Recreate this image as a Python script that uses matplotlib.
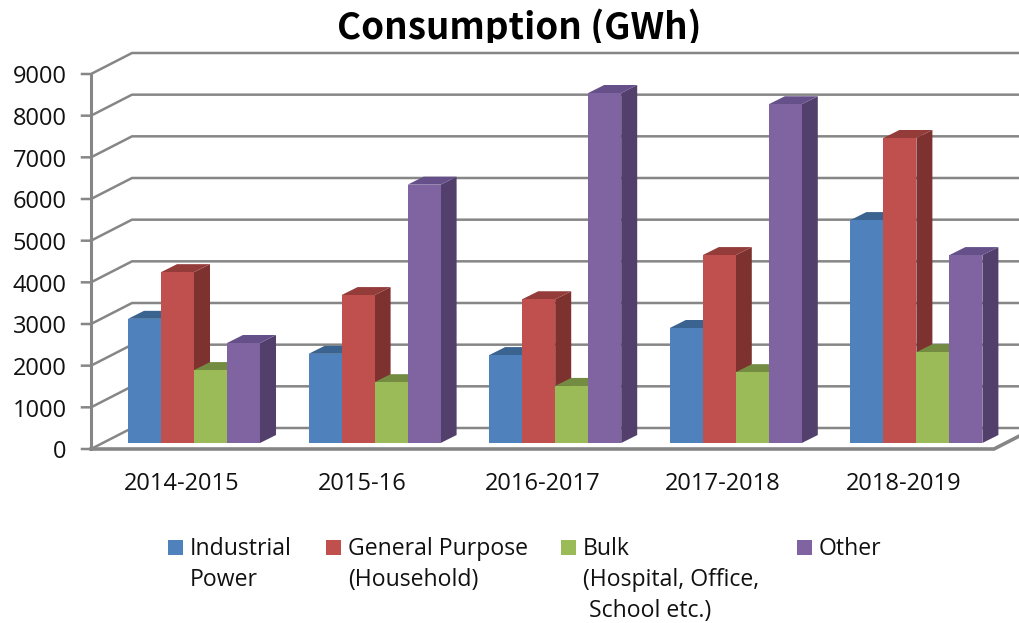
import matplotlib
matplotlib.use('Agg')
import matplotlib.pyplot as plt
from matplotlib.patches import Polygon, Rectangle
from matplotlib.transforms import Bbox

periodos = ['2014-2015', '2015-16', '2016-2017', '2017-2018', '2018-2019']
industrial = [2980, 2140, 2110, 2760, 5350]
general = [4100, 3550, 3450, 4510, 7320]
bulk = [1750, 1460, 1370, 1700, 2180]
other = [2400, 6200, 8400, 8130, 4510]
series = [industrial, general, bulk, other]
nombres = ['Industrial\nPower', 'General Purpose\n(Household)', 'Bulk\n(Hospital, Office,\n School etc.)', 'Other']
ticks_y = [0, 1000, 2000, 3000, 4000, 5000, 6000, 7000, 8000, 9000]

# front, top, side of each bar
colores = [('#4F81BD', '#3A6390', '#3A6390'),
           ('#C0504D', '#943C3A', '#7D3230'),
           ('#9BBB59', '#738C42', '#66803A'),
           ('#8064A2', '#65508A', '#533F6B')]
gris = '#868686'
fuente = 'Open Sans'

W, H = 1019, 623
fig = plt.figure(figsize=(W / 100, H / 100), dpi=100)
# axes box = front face of the chart, in pixels of the picture
x0, x1, y_cero, y_tope = 91, 994, 449, 74
ax = fig.add_axes([x0 / W, 1 - y_cero / H, (x1 - x0) / W, (y_cero - y_tope) / H])
ax.set_xlim(0, 5)
ax.set_ylim(0, 9000)
ax.axis('off')

px = 5 / (x1 - x0)
py = 9000 / (y_cero - y_tope)

# walls
prof_x, prof_y = 41 * px, 21 * py
for v in ticks_y:
    ax.plot([-9 * px, 0, prof_x, 5 + prof_x], [v, v, v + prof_y, v + prof_y], color=gris, lw=1.8, clip_on=False, zorder=1)
ax.plot([0, 0], [0, 9000], color=gris, lw=2.2, clip_on=False, zorder=1)
ax.plot([0, 5, 5 + prof_x], [0, 0, prof_y], color=gris, lw=2.6, clip_on=False, zorder=4,
        solid_joinstyle='miter')

# bars
ancho = 33 * px
inicio = 37 * px
base = 6 * py
bar_dx, bar_dy = 16 * px, 8 * py
for i in range(len(periodos)):
    for j, serie in enumerate(series):
        v = serie[i]
        xa = i + inicio + j * ancho
        xb = xa + ancho
        tope = base + v
        frente, arriba, lado = colores[j]
        ax.add_patch(Polygon([(xb, base), (xb + bar_dx, base + bar_dy), (xb + bar_dx, tope + bar_dy), (xb, tope)],
                             facecolor=lado, edgecolor='none', zorder=2 + j * 0.1, clip_on=False))
        ax.add_patch(Polygon([(xa, tope), (xa + bar_dx, tope + bar_dy), (xb + bar_dx, tope + bar_dy), (xb, tope)],
                             facecolor=arriba, edgecolor='none', zorder=2 + j * 0.1, clip_on=False))
        ax.add_patch(Rectangle((xa, base), ancho, v, facecolor=frente, edgecolor='none', zorder=2.05 + j * 0.1,
                               clip_on=False))

for v in ticks_y:
    ax.text(-24.5 * px, v - 3.5 * py, str(v), ha='right', va='center', fontsize=17, family=fuente, color='#111111')

for i, p in enumerate(periodos):
    ax.text(i + 0.5, -35 * py, p, ha='center', va='center', fontsize=17, family=fuente, color='#111111')

# legend is laid out by hand, the columns are not even
col_x = [168, 326, 561, 797]
for j, nombre in enumerate(nombres):
    fig.add_artist(Rectangle((col_x[j] / W, 1 - 555 / H), 15 / W, 15 / H, transform=fig.transFigure,
                             facecolor=colores[j][0], edgecolor='none'))
    fig.text((col_x[j] + 22) / W, 1 - 537 / H, nombre, ha='left', va='top', fontsize=16.6, family=fuente,
             color='#111111', linespacing=1.4)

titulo = fig.text(519 / W, 1 - 28 / H, 'Consumption (GWh)', ha='center', va='center', fontsize=26.5,
                  family='Noto Sans CJK KR', fontweight='bold', color='black')
# the top of the chart area cuts the title off
titulo.set_clip_box(Bbox([[0, H - 43], [W, H]]))
titulo.set_clip_on(True)

fig.savefig('out.png', dpi=100)
